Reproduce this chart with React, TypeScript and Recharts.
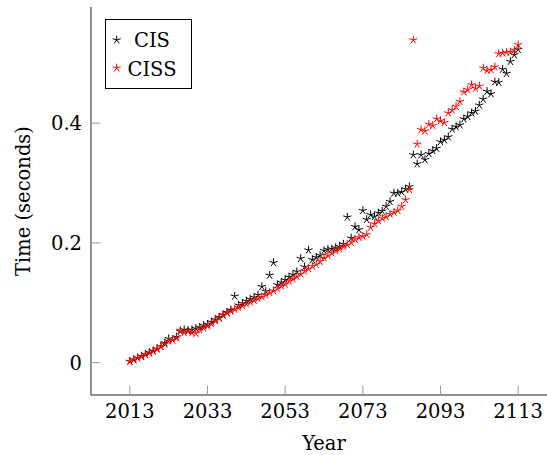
import React from "react"
import {
  ScatterChart,
  Scatter,
  XAxis,
  YAxis,
  Legend,
  Label,
} from "recharts"

const years = Array.from({ length: 101 }, (_, i) => 2013 + i)

const cis = [
  0.002, 0.005, 0.008, 0.011, 0.014, 0.017, 0.02, 0.023, 0.027, 0.033,
  0.04, 0.038, 0.043, 0.052, 0.055, 0.054, 0.055, 0.057, 0.059, 0.062,
  0.064, 0.068, 0.072, 0.076, 0.08, 0.084, 0.088, 0.111, 0.096, 0.099,
  0.103, 0.106, 0.109, 0.113, 0.127, 0.119, 0.146, 0.167, 0.13, 0.134,
  0.138, 0.143, 0.147, 0.152, 0.174, 0.16, 0.188, 0.172, 0.176, 0.179,
  0.187, 0.189, 0.19, 0.192, 0.194, 0.198, 0.243, 0.208, 0.227, 0.222,
  0.254, 0.239, 0.247, 0.244, 0.25, 0.253, 0.261, 0.269, 0.283, 0.283,
  0.285, 0.29, 0.294, 0.347, 0.332, 0.347, 0.339, 0.349, 0.354, 0.358,
  0.369, 0.372, 0.377, 0.39, 0.394, 0.397, 0.407, 0.411, 0.417, 0.42,
  0.43, 0.44, 0.453, 0.449, 0.469, 0.468, 0.49, 0.483, 0.503, 0.514,
  0.523,
]

const ciss = [
  0.002, 0.005, 0.008, 0.01, 0.013, 0.016, 0.019, 0.023, 0.027, 0.031,
  0.036, 0.038, 0.041, 0.054, 0.05, 0.052, 0.05, 0.049, 0.055, 0.058,
  0.061, 0.065, 0.07, 0.074, 0.079, 0.083, 0.086, 0.089, 0.092, 0.095,
  0.098, 0.101, 0.104, 0.107, 0.11, 0.113, 0.117, 0.12, 0.124, 0.128,
  0.131, 0.136, 0.14, 0.144, 0.148, 0.153, 0.157, 0.161, 0.164, 0.169,
  0.175, 0.179, 0.183, 0.187, 0.19, 0.194, 0.197, 0.201, 0.206, 0.209,
  0.211, 0.214, 0.226, 0.232, 0.237, 0.241, 0.244, 0.248, 0.251, 0.254,
  0.261, 0.272, 0.289, 0.539, 0.365, 0.389, 0.387, 0.398, 0.396, 0.407,
  0.404, 0.401, 0.417, 0.422, 0.428, 0.436, 0.452, 0.456, 0.464, 0.458,
  0.462, 0.492, 0.488, 0.489, 0.494, 0.516, 0.517, 0.518, 0.519, 0.522,
  0.531,
]

const xTicks = [2013, 2033, 2053, 2073, 2093, 2113]
const yTicks = [0, 0.2, 0.4]

const FONT = "DejaVu Serif"
const FS = 19.5

const cisData = years.map((x, i) => ({ x, y: cis[i] }))
const cissData = years.map((x, i) => ({ x, y: ciss[i] }))

// pgfplots-style "star" mark: five arms from the centre
function star(cx: number, cy: number, color: string, r = 4.3) {
  const arms = [0, 1, 2, 3, 4].map((k) => {
    const a = ((-90 + k * 72) * Math.PI) / 180
    return `M${cx},${cy}L${cx + r * Math.cos(a)},${cy + r * Math.sin(a)}`
  })
  return <path d={arms.join("")} stroke={color} strokeWidth={1} fill="none" />
}

const starShape = (color: string) => (p: any) => star(p.cx, p.cy, color)

function LegendBox() {
  return (
    <svg width={87} height={70} style={{ display: "block" }}>
      <rect x={0.5} y={0.5} width={86} height={69} fill="#fff" stroke="#000" strokeWidth={1} />
      {star(11.7, 21, "#000")}
      {star(11.7, 49, "#f00")}
      <text x={47} y={27.7} textAnchor="middle" style={{ fontFamily: FONT, fontSize: FS }} fill="#000">CIS</text>
      <text x={47} y={57} textAnchor="middle" style={{ fontFamily: FONT, fontSize: FS }} fill="#000">CISS</text>
    </svg>
  )
}

const tickStyle = { fill: "#000", fontSize: FS, fontFamily: FONT, style: { fontFamily: FONT } }

export default function App() {
  return (
    <div style={{ position: "absolute", left: 0, top: 0, width: 547, height: 455, overflow: "hidden", background: "#fff", fontFamily: FONT }}>
      <ScatterChart width={570} height={455} margin={{ top: 7, right: 13, bottom: 0, left: 0 }} style={{ fontFamily: FONT }}>
        <XAxis
          type="number"
          dataKey="x"
          domain={[2003, 2123]}
          ticks={xTicks}
          height={60}
          tickSize={-9.5}
          tickMargin={19}
          tick={tickStyle}
          axisLine={{ stroke: "#222" }}
          tickLine={{ stroke: "#999" }}
        >
          <Label
            content={({ viewBox }: any) => (
              <text x={viewBox.x + viewBox.width / 2} y={viewBox.y + 55} textAnchor="middle" style={{ fontFamily: FONT, fontSize: FS }} fill="#000">
                Year
              </text>
            )}
          />
        </XAxis>
        <XAxis
          xAxisId="top"
          orientation="top"
          type="number"
          dataKey="x"
          domain={[2003, 2123]}
          ticks={xTicks}
          height={0}
          tickSize={-9.5}
          tick={false}
          axisLine={{ stroke: "#222" }}
          tickLine={{ stroke: "#999" }}
        />
        <YAxis
          type="number"
          dataKey="y"
          domain={[-0.054, 0.594]}
          ticks={yTicks}
          width={91}
          tickSize={-9.5}
          tickMargin={18.5}
          tick={tickStyle}
          axisLine={{ stroke: "#222" }}
          tickLine={{ stroke: "#999" }}
        >
          <Label
            content={({ viewBox }: any) => {
              const x = viewBox.x + 29.5
              const y = viewBox.y + viewBox.height / 2
              return (
                <text x={x} y={y} transform={`rotate(-90, ${x}, ${y})`} textAnchor="middle" style={{ fontFamily: FONT, fontSize: FS }} fill="#000">
                  Time (seconds)
                </text>
              )
            }}
          />
        </YAxis>
        <YAxis
          yAxisId="right"
          orientation="right"
          type="number"
          dataKey="y"
          domain={[-0.054, 0.594]}
          ticks={yTicks}
          width={0}
          tickSize={-9.5}
          tick={false}
          axisLine={{ stroke: "#222" }}
          tickLine={{ stroke: "#999" }}
        />
        <Legend
          layout="vertical"
          align="center"
          verticalAlign="middle"
          wrapperStyle={{ left: 105, top: 19, width: 87, height: 70 }}
          content={() => <LegendBox />}
        />
        <Scatter name="CIS" data={cisData} shape={starShape("#000")} isAnimationActive={false} />
        <Scatter name="CISS" data={cissData} shape={starShape("#f00")} isAnimationActive={false} />
      </ScatterChart>
    </div>
  )
}
